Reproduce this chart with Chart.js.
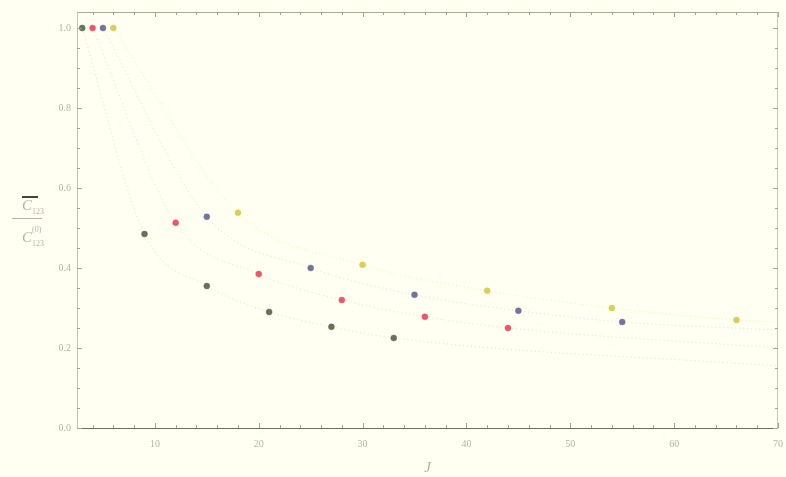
<!DOCTYPE html>
<html><head><meta charset="utf-8">
<script src="https://cdn.jsdelivr.net/npm/chart.js@4"></script>
<style>html,body{margin:0;padding:0;background:#fffff2;}#wrap{width:786px;height:477px;}</style>
</head><body><div id="wrap"><canvas id="c" width="786" height="477"></canvas></div>
<script>
// Data
const J1=[3,9,15,21,27,33];  const V1=[1,0.485,0.355,0.29,0.253,0.225];
const J2=[4,12,20,28,36,44]; const V2=[1,0.513,0.385,0.32,0.278,0.25];
const J3=[5,15,25,35,45,55]; const V3=[1,0.528,0.40,0.333,0.293,0.265];
const J4=[6,18,30,42,54,66]; const V4=[1,0.538,0.408,0.343,0.30,0.27];
const tailJ=70;
const tailV=[0.155,0.20,0.245,0.265];
const xTicks=[10,20,30,40,50,60,70];
const yTicks=[0,0.2,0.4,0.6,0.8,1.0];
const xMinor=[4,6,8,12,14,16,18,22,24,26,28,32,34,36,38,42,44,46,48,52,54,56,58,62,64,66,68];
const yMinor=[0.05,0.1,0.15,0.25,0.3,0.35,0.45,0.5,0.55,0.65,0.7,0.75,0.85,0.9,0.95];
const colors=['#687058','#ec5668','#72749c','#dccc58'];
const curveColors=['rgba(120,130,100,0.25)','rgba(232,72,90,0.22)','rgba(100,104,150,0.22)','rgba(216,198,64,0.32)'];

const Js=[J1,J2,J3,J4], Vs=[V1,V2,V3,V4];
const datasets=[];
Js.forEach((J,i)=>{
  const pts=J.map((x,k)=>({x:x,y:Vs[i][k]}));
  datasets.push({type:'line',data:pts.concat([{x:tailJ,y:tailV[i]}]),borderColor:curveColors[i],borderWidth:1,borderDash:[1,3],pointRadius:0,cubicInterpolationMode:'monotone',fill:false,order:2});
});
Js.forEach((J,i)=>{
  datasets.push({type:'scatter',data:J.map((x,k)=>({x:x,y:Vs[i][k]})),backgroundColor:colors[i],borderColor:colors[i]+'80',pointRadius:3,pointBorderWidth:1,order:1});
});

const labelColor='#bcb0a2';
const framePlugin={id:'frame',afterDatasetsDraw(chart){
  const {ctx,chartArea:a,scales:{x,y}}=chart;
  ctx.save();
  ctx.lineWidth=1;
  ctx.strokeStyle='#b0a896';ctx.beginPath();ctx.moveTo(a.left,a.top+0.5);ctx.lineTo(a.right,a.top+0.5);ctx.stroke();
  ctx.strokeStyle='#cfc4b4';ctx.beginPath();ctx.moveTo(a.right-0.5,a.top);ctx.lineTo(a.right-0.5,a.bottom);ctx.stroke();
  ctx.strokeStyle='#cbbcae';ctx.beginPath();ctx.moveTo(a.left+0.5,a.top);ctx.lineTo(a.left+0.5,a.bottom);ctx.stroke();
  ctx.strokeStyle='#6e6c5e';ctx.beginPath();ctx.moveTo(a.left,a.bottom+0.5);ctx.lineTo(a.right,a.bottom+0.5);ctx.stroke();
  ctx.strokeStyle='#a8a090';
  const tk=(px,len,vert,edge,dir)=>{ctx.beginPath();if(vert){ctx.moveTo(px,edge);ctx.lineTo(px,edge+dir*len);}else{ctx.moveTo(edge,px);ctx.lineTo(edge+dir*len,px);}ctx.stroke();};
  xTicks.forEach(v=>{const p=Math.round(x.getPixelForValue(v))+0.5;tk(p,5,true,a.bottom,-1);tk(p,5,true,a.top,1);});
  xMinor.forEach(v=>{const p=Math.round(x.getPixelForValue(v))+0.5;tk(p,3,true,a.bottom,-1);tk(p,3,true,a.top,1);});
  yTicks.forEach(v=>{const p=Math.round(y.getPixelForValue(v))+0.5;tk(p,5,false,a.left,1);tk(p,5,false,a.right,-1);});
  yMinor.forEach(v=>{const p=Math.round(y.getPixelForValue(v))+0.5;tk(p,3,false,a.left,1);tk(p,3,false,a.right,-1);});
  ctx.fillStyle=labelColor;ctx.strokeStyle=labelColor;
  ctx.font='italic 15px "Liberation Serif"';ctx.textAlign='left';ctx.textBaseline='alphabetic';
  ctx.fillText('C',22,210);
  ctx.font='8px "Liberation Serif"';ctx.fillText('123',32,214);
  ctx.fillStyle='#444';ctx.fillRect(22,196,16,2);
  ctx.fillStyle=labelColor;
  ctx.beginPath();ctx.moveTo(12,218.5);ctx.lineTo(42,218.5);ctx.stroke();
  ctx.font='italic 15px "Liberation Serif"';ctx.fillText('C',22,242);
  ctx.font='8px "Liberation Serif"';ctx.fillText('123',32,246);ctx.fillText('(0)',32,232);
  ctx.restore();
}};

new Chart(document.getElementById('c'),{
  data:{datasets},
  options:{
    responsive:false,animation:false,
    layout:{padding:{left:0,right:0,top:11,bottom:0}},
    plugins:{legend:{display:false},tooltip:{enabled:false}},
    scales:{
      x:{type:'linear',min:2.5,max:70,
        afterBuildTicks(s){s.ticks=xTicks.map(v=>({value:v}));},
        grid:{display:false,drawTicks:false},border:{display:false},
        ticks:{color:labelColor,font:{family:'Liberation Serif',size:10},padding:10},
        title:{display:true,text:'J',color:labelColor,font:{family:'Liberation Serif',size:15,style:'italic'},padding:{top:6,bottom:0}},
        afterFit(s){s.height=49;s.paddingLeft=0;s.paddingRight=8;}},
      y:{type:'linear',min:0,max:1.04,
        afterBuildTicks(s){s.ticks=yTicks.map(v=>({value:v}));},
        grid:{display:false,drawTicks:false},border:{display:false},
        ticks:{color:labelColor,font:{family:'Liberation Serif',size:10},padding:6,callback:v=>v.toFixed(1)},
        afterFit(s){s.width=77;}}
    }
  },
  plugins:[framePlugin]
});
</script></body></html>
